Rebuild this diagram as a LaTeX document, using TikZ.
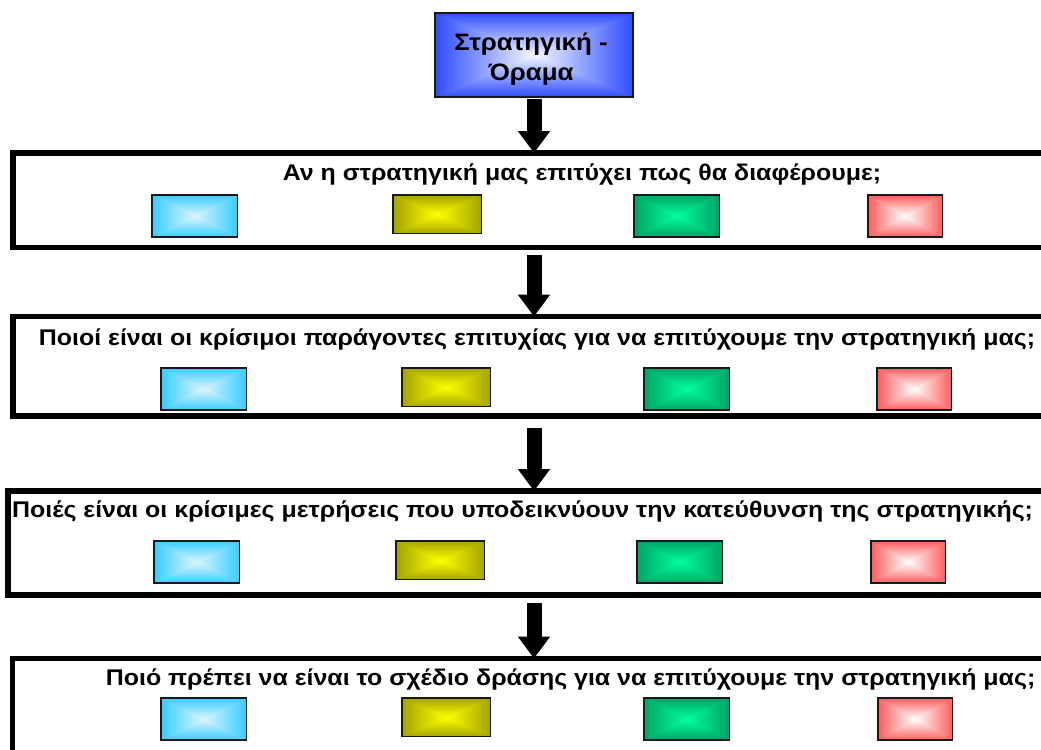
\documentclass[tikz,border=0pt]{standalone}
\usepackage{fontspec}
\usepackage{graphicx}
\setmainfont{Liberation Sans}
\usetikzlibrary{arrows.meta,calc}

% Rectangular "glow" shading: colour #2-#4 in the middle, #5-#7 at the border.
% t = max(|x|,|y|)/25 over the 100bp shading square (path fills the central 50bp).
\newcommand\defglow[7]{%
  \pgfdeclarefunctionalshading{#1}{\pgfpoint{-50bp}{-50bp}}{\pgfpoint{50bp}{50bp}}{}{%
    abs exch abs 2 copy sub abs add add 2 div 25 div
    dup #5 #2 sub mul #2 add exch
    dup #6 #3 sub mul #3 add exch
    #7 #4 sub mul #4 add}}
\defglow{glowcyan}{0.86}{0.96}{1.0}{0.22}{0.80}{1.0}
\defglow{glowyellow}{1.0}{1.0}{0.0}{0.64}{0.64}{0.0}
\defglow{glowgreen}{0.0}{1.0}{0.62}{0.0}{0.64}{0.40}
\defglow{glowred}{1.0}{1.0}{1.0}{1.0}{0.36}{0.36}
\defglow{glowblue}{0.96}{0.97}{1.0}{0.18}{0.30}{1.0}

% slightly widened lettering
\newcommand\widetext[2][1.10]{\scalebox{#1}[1]{#2}}

\begin{document}
\begin{tikzpicture}[x=0.75pt,y=-0.75pt,
  bigbox/.style={draw=black,line width=4.1pt,anchor=north west,inner sep=0pt,outer sep=0pt,
    minimum width=785pt},
  question/.style={anchor=base,inner sep=0pt,font=\fontsize{17}{20}\selectfont\bfseries},
  chip/.style={draw=black!90,line width=0.9pt,anchor=north west,inner sep=0pt,outer sep=0pt},
  cyanchip/.style={chip,shading=glowcyan,minimum width=64pt,minimum height=31.5pt},
  yellowchip/.style={chip,shading=glowyellow,minimum width=66.5pt,minimum height=29pt},
  greenchip/.style={chip,shading=glowgreen,minimum width=64pt,minimum height=31.5pt},
  redchip/.style={chip,shading=glowred,minimum width=56pt,minimum height=31.5pt},
  blockarrow/.style={line width=11.25pt,-{Triangle[width=23.25pt,length=16.5pt]}}
]
\clip (0,0) rectangle (1041,749);
\useasboundingbox (0,0) rectangle (1041,749);

% vision box
\node[draw=black!90,line width=0.8pt,shading=glowblue,minimum width=148.5pt,minimum height=63pt,
  inner sep=0pt,outer sep=0pt] (vision) at (534,55) {};
\node[align=center,inner sep=0pt,font=\fontsize{17.8}{22.5}\selectfont\bfseries]
  (visiontext) at (531,59) {\widetext[1.09]{Στρατηγική -}\\\widetext[1.09]{Όραμα}};

% question frames (open to the right)
\node[bigbox,minimum height=70.9pt] (b1) at (13,153) {};
\node[bigbox,minimum height=74.6pt] (b2) at (13,316.5) {};
\node[bigbox,minimum height=78pt] (b3) at (8,491) {};
\node[bigbox,minimum height=90pt] (b4) at (12.5,658.5) {};

% questions
\node[question] (q1) at (582,180) {\widetext{Αν η στρατηγική μας επιτύχει πως θα διαφέρουμε;}};
\node[question] (q2) at (537,345) {\widetext{Ποιοί είναι οι κρίσιμοι παράγοντες επιτυχίας για να επιτύχουμε την στρατηγική μας;}};
\node[question] (q3) at (522.5,517) {\widetext{Ποιές είναι οι κρίσιμες μετρήσεις που υποδεικνύουν την κατεύθυνση της στρατηγικής;}};
\node[question] (q4) at (570.5,685) {\widetext{Ποιό πρέπει να είναι το σχέδιο δράσης για να επιτύχουμε την στρατηγική μας;}};

% coloured chips, one row per frame
\node[cyanchip]   (c1) at (152,195) {};
\node[yellowchip] (y1) at (393,195) {};
\node[greenchip]  (g1) at (634,195) {};
\node[redchip]    (r1) at (868,195) {};

\node[cyanchip]   (c2) at (161,368) {};
\node[yellowchip] (y2) at (402,368) {};
\node[greenchip]  (g2) at (644,368) {};
\node[redchip]    (r2) at (877,368) {};

\node[cyanchip]   (c3) at (154,541) {};
\node[yellowchip] (y3) at (396,541) {};
\node[greenchip]  (g3) at (637,541) {};
\node[redchip]    (r3) at (871,541) {};

\node[cyanchip]   (c4) at (161,698) {};
\node[yellowchip] (y4) at (402,698) {};
\node[greenchip]  (g4) at (644,698) {};
\node[redchip]    (r4) at (878,698) {};

% flow arrows
\draw[blockarrow] ($(vision.south)+(0,2)$) -- (vision.south |- b1.north);
\draw[blockarrow] ($(b1.south -| vision.south)+(0,7.5)$) -- (vision.south |- b2.north);
\draw[blockarrow] ($(b2.south -| vision.south)+(0,12)$) -- (vision.south |- b3.north);
\draw[blockarrow] ($(b3.south -| vision.south)+(0,8)$) -- (vision.south |- b4.north);
\end{tikzpicture}
\end{document}
